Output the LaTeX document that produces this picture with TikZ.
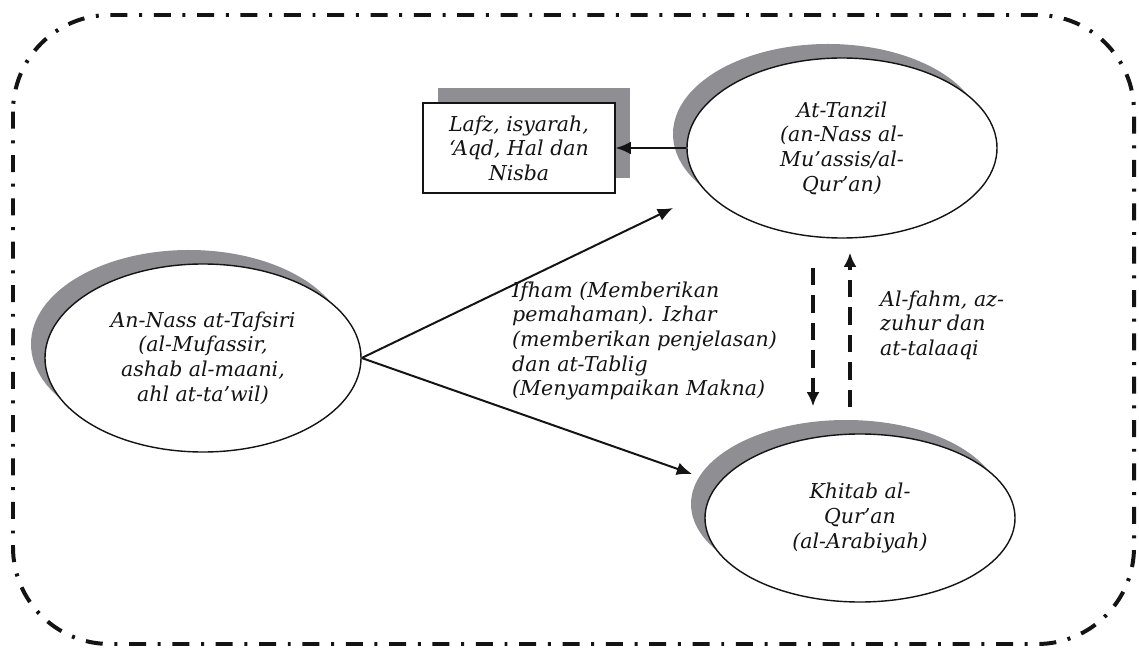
\documentclass[tikz,border=0pt]{standalone}
\usepackage{fontspec}
\setmainfont{DejaVu Serif}
\usetikzlibrary{shapes.geometric, positioning, arrows.meta, shadows, calc}
\definecolor{ShadowGray}{HTML}{8E8E93}
\definecolor{InkBlack}{HTML}{141414}

\tikzset{
  concept/.style={draw=InkBlack, line width=1.2pt, fill=white, ellipse, inner sep=0pt, align=center,
    drop shadow={shadow xshift=-0.42cm, shadow yshift=0.42cm, fill=ShadowGray, opacity=1}},
  notebox/.style={draw=InkBlack, line width=1.2pt, fill=white, inner sep=0pt, align=center,
    minimum width=5.76cm, minimum height=2.7cm,
    drop shadow={shadow xshift=0.45cm, shadow yshift=0.45cm, fill=ShadowGray, opacity=1}},
  flow/.style={-{Latex[length=13pt, width=11pt]}, line width=1.7pt, InkBlack},
  feedback/.style={-{Latex[length=12pt, width=11pt]}, line width=4pt, dash pattern=on 15pt off 8.5pt, InkBlack},
  frameline/.style={line width=3.4pt, InkBlack, dash pattern=on 14.5pt off 10pt on 2.5pt off 10pt, rounded corners=2.9cm},
  note/.style={align=left, inner sep=0pt, text=InkBlack}
}

\begin{document}
\begin{tikzpicture}[x=0.03cm, y=-0.03cm, font=\fontsize{17.5}{21}\selectfont\itshape, text=InkBlack]
  \useasboundingbox (0,0) rectangle (1139,650);
  % Frame
  \draw[frameline] (13,15) rectangle (1134,644);

  % Concepts
  \node[concept, minimum width=9.3cm, minimum height=5.4cm] (tanzil) at (842,148)
    {At-Tanzil\\(an-Nass al-\\Mu’assis/al-\\Qur’an)};
  \node[concept, minimum width=9.48cm, minimum height=5.64cm] (tafsiri) at (203,358)
    {An-Nass at-Tafsiri\\(al-Mufassir,\\ashab al-maani,\\ahl at-ta’wil)};
  \node[concept, minimum width=9.3cm, minimum height=5.04cm] (khitab) at (860,518)
    {Khitab al-\\Qur’an\\(al-Arabiyah)};
  \node[notebox] (lafz) at (519,148) {Lafz, isyarah,\\‘Aqd, Hal dan\\Nisba};

  % Free ends
  \coordinate (toTanzil) at (673,208);
  \coordinate (toKhitab) at (692,474);

  % Connectors
  \draw[flow] (tanzil) -- (lafz);
  \draw[flow] (tafsiri.east) -- (toTanzil);
  \draw[flow] (tafsiri.east) -- (toKhitab);
  \draw[feedback] ($(tanzil.south)+(-29,29)$) -- ($(khitab.north)+(-47,-27)$);
  \draw[feedback] ($(khitab.north)+(-10,-26)$) -- ($(tanzil.south)+(8,14)$);

  % Labels
  \node[note, anchor=west] (ifham) at (512,341)
    {Ifham (Memberikan\\pemahaman). Izhar\\(memberikan penjelasan)\\dan at-Tablig\\(Menyampaikan Makna)};
  \node[note, anchor=west] (fahm) at (880,325) {Al-fahm, az-\\zuhur dan\\at-talaaqi};
\end{tikzpicture}
\end{document}
